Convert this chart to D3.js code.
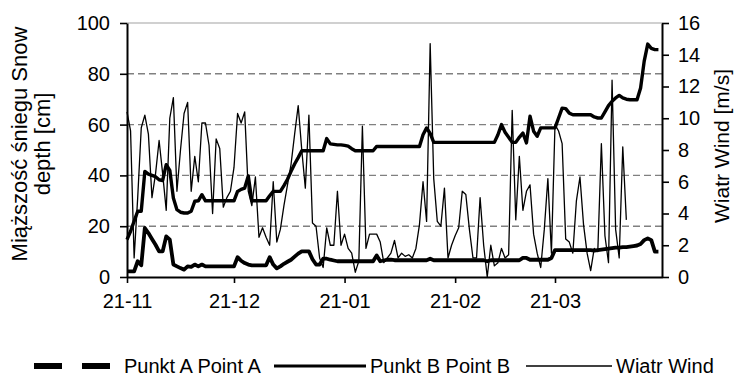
<!DOCTYPE html>
<html>
<head>
<meta charset="utf-8">
<script src="https://cdn.jsdelivr.net/npm/d3@7"></script>
<style>
  html, body { margin: 0; padding: 0; background: #fff; }
  svg { display: block; font-family: "Liberation Sans", Arial, sans-serif; }
</style>
</head>
<body>
<svg id="chart" width="736" height="382"></svg>
<script>
// daily series, first value is 21 Nov
const startDate = new Date(2020, 10, 21);
const endDate = new Date(2021, 3, 20);

const monthTicks = [
  new Date(2020, 10, 21), new Date(2020, 11, 21), new Date(2021, 0, 21),
  new Date(2021, 1, 21), new Date(2021, 2, 21)
];
const monthLabels = ["21-11", "21-12", "21-01", "21-02", "21-03"];
const depthTicks = [0, 20, 40, 60, 80, 100];
const windTicks = [0, 2, 4, 6, 8, 10, 12, 14, 16];

// snow depth, point A [cm]
const snowA = [
  2.2, 2.2, 2.2, 6.2, 4.6, 19.3, 17.3, 15, 12.7, 10.1,
  10.1, 16, 14.7, 4.9, 4.2, 3.5, 2.9, 4.2, 4.0, 4.9,
  4.2, 4.9, 4.2, 4.2, 4.2, 4.2, 4.2, 4.2, 4.2, 4.2,
  4.2, 7.8, 6.4, 5.5, 4.9, 4.6, 4.6, 4.6, 4.6, 4.6,
  7.8, 4.9, 3.4, 4.2, 5.2, 6.0, 6.8, 8.0, 9.2, 10.1,
  10.1, 10.1, 7.0, 4.9, 4.9, 7.2, 7.2, 6.8, 6.5, 6.2,
  6.2, 6.2, 6.2, 6.2, 6.2, 6.2, 6.2, 6.2, 6.2, 6.2,
  8.5, 6.2, 6.5, 6.8, 6.8, 6.6, 6.6, 6.6, 6.6, 6.6,
  6.6, 6.6, 6.6, 6.6, 6.6, 7.2, 6.6, 6.6, 6.6, 6.6,
  6.6, 6.6, 6.6, 6.6, 6.6, 6.6, 6.6, 6.6, 6.6, 6.6,
  6.6, 6.2, 6.6, 6.6, 6.6, 6.6, 6.6, 6.6, 6.6, 6.6,
  6.6, 7.5, 7.5, 6.8, 6.8, 6.8, 6.8, 6.8, 6.8, 7.5,
  10.6, 10.6, 10.6, 10.6, 10.6, 10.6, 10.6, 10.6, 10.6, 10.6,
  10.6, 10.4, 10.6, 10.8, 11, 11.2, 11.4, 11.6, 11.6, 11.8,
  11.8, 12, 12.2, 12.4, 13, 14.5, 15.2, 14.5, 10, 10
];

// snow depth, point B [cm]
const snowB = [
  14.7, 18, 22, 25.9, 25.9, 41.6, 40.5, 40, 39.5, 38.3,
  38, 44.2, 42, 31.1, 26.5, 25.5, 25.2, 25.2, 25.9, 29.8,
  30, 32.4, 30, 30, 30, 30, 30, 30, 30, 30,
  30, 33.7, 34.5, 35, 39.8, 30, 30, 30, 30, 30,
  32, 33.7, 33.7, 33.7, 36, 38.5, 41.6, 44.5, 47, 49.7,
  49.7, 49.7, 49.7, 49.7, 49.7, 49.7, 54.5, 52.4, 52.2, 52,
  52, 51.8, 51.5, 50.5, 49.7, 49.7, 49.7, 49.7, 49.7, 49.7,
  51.4, 51.4, 51.4, 51.4, 51.4, 51.4, 51.4, 51.4, 51.4, 51.4,
  51.4, 51.4, 51.4, 56, 58.7, 56.5, 53, 53, 53, 53,
  53, 53, 53, 53, 53, 53, 53, 53, 53, 53,
  53, 53, 53, 53, 56, 60, 57, 55, 53, 53,
  55, 56.7, 52.8, 63.3, 57.4, 55.4, 58.7, 58.7, 58.7, 58.7,
  58.7, 62.6, 66.5, 66.3, 64.5, 63.9, 63.9, 63.9, 63.9, 63.9,
  63.9, 63, 62.6, 62.6, 65, 67.5, 69.2, 70.5, 71.5, 70.5,
  70, 69.8, 69.8, 69.8, 74.4, 84.9, 91.7, 90, 89.5, 89.5
];

// wind speed [m/s]
const windSpeed = [
  10.4, 9.2, 1.2, 5.0, 9.4, 10.2, 9.0, 5.0, 6.5, 8.6,
  6.5, 4.2, 10.0, 11.3, 5.4, 8.0, 10.3, 11.0, 5.4, 7.6,
  6.0, 9.7, 9.7, 8.3, 4.0, 8.7, 8.1, 4.4, 5.0, 5.4,
  6.9, 10.3, 9.7, 10.4, 5.4, 4.5, 6.3, 2.5, 3.1, 2.5,
  2.0, 6.0, 2.2, 3.0, 4.5, 5.8, 7.1, 9.0, 10.8, 8.0,
  5.6, 10.2, 3.4, 3.2, 1.2, 0.6, 3.1, 2.0, 2.0, 5.4,
  2.0, 2.7, 1.8, 1.5, 0.3, 1.0, 9.5, 1.8, 2.7, 2.7,
  2.7, 2.2, 0.9, 1.2, 1.5, 2.3, 1.2, 1.5, 1.3, 1.4,
  1.2, 1.8, 3.3, 6.0, 3.5, 14.7, 6.2, 3.5, 3.2, 5.6,
  1.2, 2.0, 2.6, 3.1, 5.4, 5.2, 3.0, 1.2, 1.2, 5.0,
  2.0, 0.0, 2.0, 0.7, 0.9, 1.8, 1.2, 1.4, 10.5, 3.6,
  7.6, 4.2, 5.4, 5.8, 2.7, 1.5, 0.6, 3.0, 6.2, 1.5,
  9.6, 9.2, 8.4, 2.4, 2.2, 1.5, 4.8, 6.3, 3.3, 1.5,
  0.4, 1.8, 1.6, 8.4, 2.6, 0.9, 12.4, 3.0, 1.2, 8.2,
  3.6
];

const legendLabels = ["Punkt A Point A", "Punkt B Point B", "Wiatr Wind"];
const leftTitle = ["Miąższość śniegu Snow", "depth [cm]"];
const rightTitle = "Wiatr Wind [m/s]";

const plot = { left: 127, right: 662, top: 23, bottom: 277 };
const fontSize = 20;

const svg = d3.select("#chart");

const x = d3.scaleTime().domain([startDate, endDate]).range([plot.left, plot.right]);
const yDepth = d3.scaleLinear().domain([0, 100]).range([plot.bottom, plot.top]);
const yWind = d3.scaleLinear().domain([0, 16]).range([plot.bottom, plot.top]);

const day = i => d3.timeDay.offset(startDate, i);

// gridlines (100 is solid light grey, others dashed)
svg.append("g")
  .selectAll("line")
  .data(depthTicks.filter(t => t > 0))
  .enter().append("line")
  .attr("x1", plot.left)
  .attr("x2", plot.right)
  .attr("y1", d => yDepth(d))
  .attr("y2", d => yDepth(d))
  .attr("stroke", d => d === 100 ? "#c0c0c0" : "#808080")
  .attr("stroke-width", 1.4)
  .attr("stroke-dasharray", d => d === 100 ? null : "7,4");

// series
const depthLine = d3.line().x((d, i) => x(day(i))).y(d => yDepth(d));
const windLine = d3.line().x((d, i) => x(day(i))).y(d => yWind(d));

svg.append("path")
  .datum(windSpeed)
  .attr("d", windLine)
  .attr("fill", "none")
  .attr("stroke", "#000")
  .attr("stroke-width", 1.3)
  .attr("stroke-linejoin", "round");

svg.append("path")
  .datum(snowB)
  .attr("d", depthLine)
  .attr("fill", "none")
  .attr("stroke", "#000")
  .attr("stroke-width", 3.4)
  .attr("stroke-linejoin", "round");

// excel restarts the dash at every point, so on daily data it looks solid
svg.append("path")
  .datum(snowA)
  .attr("d", depthLine)
  .attr("fill", "none")
  .attr("stroke", "#000")
  .attr("stroke-width", 3.8)
  .attr("stroke-linejoin", "round");

// axes
function styleAxis(g) {
  g.attr("font-family", null).attr("font-size", fontSize);
  g.select(".domain").attr("stroke", "#000").attr("stroke-width", 2);
  g.selectAll(".tick line").attr("stroke", "#000").attr("stroke-width", 1.6);
  g.selectAll(".tick text").attr("fill", "#000");
}

svg.append("g")
  .attr("transform", `translate(${plot.left},0)`)
  .call(d3.axisLeft(yDepth).tickValues(depthTicks).tickSize(7).tickSizeOuter(0).tickPadding(10))
  .call(styleAxis);

svg.append("g")
  .attr("transform", `translate(${plot.right},0)`)
  .call(d3.axisRight(yWind).tickValues(windTicks).tickSize(7).tickSizeOuter(0).tickPadding(9))
  .call(styleAxis);

svg.append("g")
  .attr("transform", `translate(0,${plot.bottom})`)
  .call(d3.axisBottom(x).tickValues(monthTicks).tickSize(6).tickSizeOuter(0).tickPadding(11)
    .tickFormat((d, i) => monthLabels[i]))
  .call(styleAxis);

// axis titles
const lt = svg.append("text")
  .attr("transform", "translate(27,144) rotate(-90)")
  .attr("text-anchor", "middle")
  .attr("font-size", 22);
lt.selectAll("tspan")
  .data(leftTitle)
  .enter().append("tspan")
  .attr("x", 0)
  .attr("dy", (d, i) => i === 0 ? 0 : "1.05em")
  .text(d => d);

svg.append("text")
  .attr("transform", "translate(729,146) rotate(-90)")
  .attr("text-anchor", "middle")
  .attr("font-size", 21)
  .text(rightTitle);

// legend
const legendY = 366;
const legend = svg.append("g");
const samples = [
  { x1: 34, x2: 110, w: 6, dash: "28,20", tx: 124 },
  { x1: 274, x2: 366, w: 3, dash: null, tx: 370 },
  { x1: 526, x2: 612, w: 1.5, dash: null, tx: 616 }
];
samples.forEach((s, i) => {
  legend.append("line")
    .attr("x1", s.x1).attr("x2", s.x2)
    .attr("y1", legendY).attr("y2", legendY)
    .attr("stroke", "#000")
    .attr("stroke-width", s.w)
    .attr("stroke-dasharray", s.dash);
  legend.append("text")
    .attr("x", s.tx)
    .attr("y", legendY + 7)
    .attr("font-size", 20)
    .text(legendLabels[i]);
});
</script>
</body>
</html>
